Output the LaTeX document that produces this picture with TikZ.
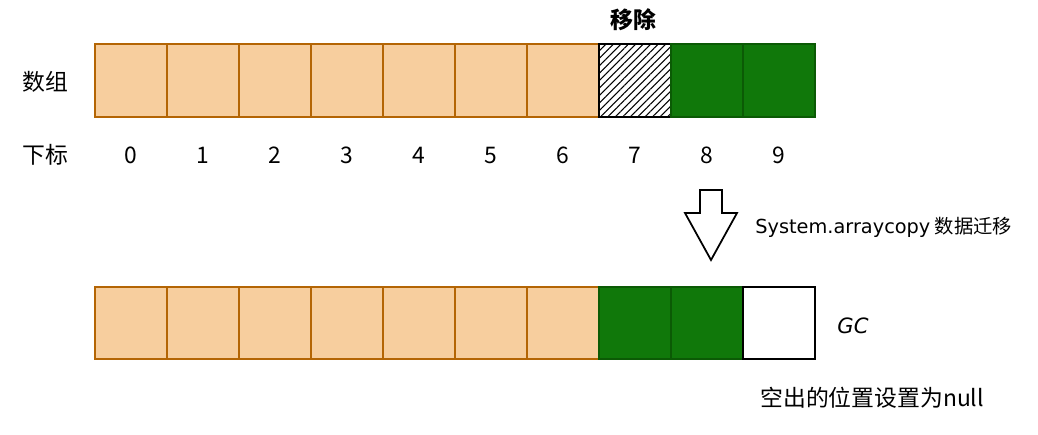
\documentclass[tikz,border=0pt]{standalone}
\usepackage{fontspec}
\setmainfont{Noto Sans CJK SC}
\newfontfamily\latinfont{DejaVu Sans}
\usetikzlibrary{patterns.meta}
\definecolor{cellfill}{HTML}{F7CE9E}
\definecolor{celldraw}{HTML}{B46504}
\definecolor{movfill}{HTML}{10780A}
\definecolor{movdraw}{HTML}{0B5A05}

\begin{document}
\begin{tikzpicture}[x=0.02cm,y=-0.02cm,
	cell/.style={draw=celldraw, fill=cellfill, line width=1.1pt, minimum width=1.44cm, minimum height=1.45cm, inner sep=0pt, outer sep=0pt},
	movcell/.style={cell, draw=movdraw, fill=movfill},
	gonecell/.style={cell, draw=black, fill=white, pattern={Lines[angle=45,distance=3pt,line width=0.6pt]}},
	freecell/.style={cell, draw=black, fill=white},
	lbl/.style={font=\fontsize{13}{15}\selectfont, inner sep=0pt},
	note/.style={font=\fontsize{11}{13}\selectfont, inner sep=0pt, anchor=west}]
	% Parameters
	\def\cw{72}
	\def\xo{131}
	\def\yu{80.5}
	\def\yl{323}
	\def\yi{155}
	
	\useasboundingbox (0,0) rectangle (1038,434);
	
	%upper array
	\foreach \i in {0,...,6} {
		\node[cell] (u\i) at ({\xo+\cw*\i},\yu) {};
	}
	\node[freecell] (u7) at ({\xo+\cw*7},\yu) {};
	\node[gonecell] at (u7) {};
	\foreach \i in {8,9} {
		\node[movcell] (u\i) at ({\xo+\cw*\i},\yu) {};
	}
	
	%indices
	\foreach \i in {0,...,9} {
		\node[lbl] (i\i) at ({\xo+\cw*\i},\yi) {\i};
	}
	
	%lower array
	\foreach \i in {0,...,6} {
		\node[cell] (l\i) at ({\xo+\cw*\i},\yl) {};
	}
	\foreach \i in {7,8} {
		\node[movcell] (l\i) at ({\xo+\cw*\i},\yl) {};
	}
	\node[freecell] (l9) at ({\xo+\cw*9},\yl) {};
	
	%labels
	\node[lbl] (arr) at (45,82) {数组};
	\node[lbl] (idx) at (45,\yi) {下标};
	\node[lbl, font=\fontsize{13}{15}\selectfont\bfseries] (rm) at (633,20) {移除};
	\node[lbl, font=\fontsize{12}{14}\selectfont\latinfont\itshape] (gc) at (853,326) {GC};
	\node[lbl, anchor=west] (null) at (760,398) {空出的位置设置为null};
	
	%copy arrow
	\draw[line width=1pt, fill=white] (700,190) -- (722,190) -- (722,213) -- (737,213) -- (711,260) -- (685,213) -- (700,213) -- cycle;
	\node[note] (copy) at (755,227) {{\latinfont System.arraycopy} 数据迁移};
\end{tikzpicture}
\end{document}
